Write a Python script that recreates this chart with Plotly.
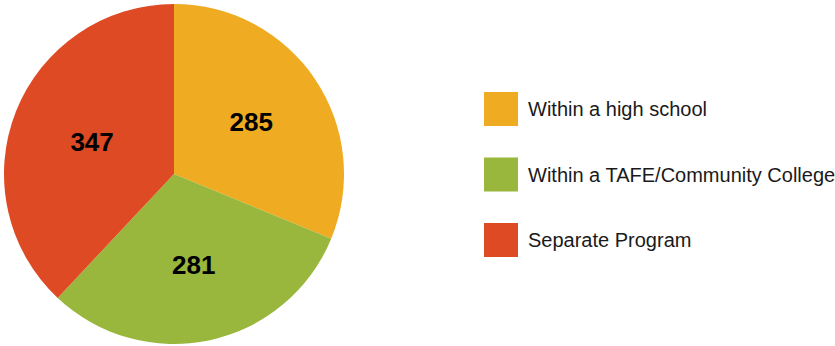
import plotly.graph_objects as go

W, H = 835, 346
categories = ["Within a high school", "Within a TAFE/Community College", "Separate Program"]
values = [285, 281, 347]
colors = ["#EFAB22", "#99B63D", "#DE4A24"]

fig = go.Figure()
fig.add_trace(go.Pie(
    labels=categories,
    values=values,
    sort=False,
    direction="clockwise",
    rotation=0,
    marker=dict(colors=colors, line=dict(width=0)),
    textinfo="value",
    textposition="inside",
    insidetextorientation="horizontal",
    textfont=dict(family="Liberation Sans, Arial, sans-serif", size=26, color="black", weight="bold"),
    domain=dict(x=[4 / W, 344 / W], y=[2 / H, 342 / H]),
    showlegend=False,
    hoverinfo="label+value",
))

# Legend drawn as layout shapes + text
sq = 34
legend_x = 484
legend_top = 92
legend_step = 65.5
shapes = []
annotations = []
for i, (cat, col) in enumerate(zip(categories, colors)):
    top = legend_top + i * legend_step
    shapes.append(dict(
        type="rect", xref="paper", yref="paper",
        x0=legend_x / W, x1=(legend_x + sq) / W,
        y0=1 - (top + sq) / H, y1=1 - top / H,
        fillcolor=col, line=dict(width=0),
    ))
    annotations.append(dict(
        text=cat, xref="paper", yref="paper",
        x=(legend_x + sq + 8) / W, y=1 - (top + sq / 2) / H,
        xanchor="left", yanchor="middle", showarrow=False,
        font=dict(family="Liberation Sans, Arial, sans-serif", size=20, color="#1a1a1a"),
    ))

fig.update_layout(
    width=W, height=H,
    margin=dict(l=0, r=0, t=0, b=0),
    paper_bgcolor="white",
    plot_bgcolor="white",
    shapes=shapes,
    annotations=annotations,
)

fig.write_html("out.html")
